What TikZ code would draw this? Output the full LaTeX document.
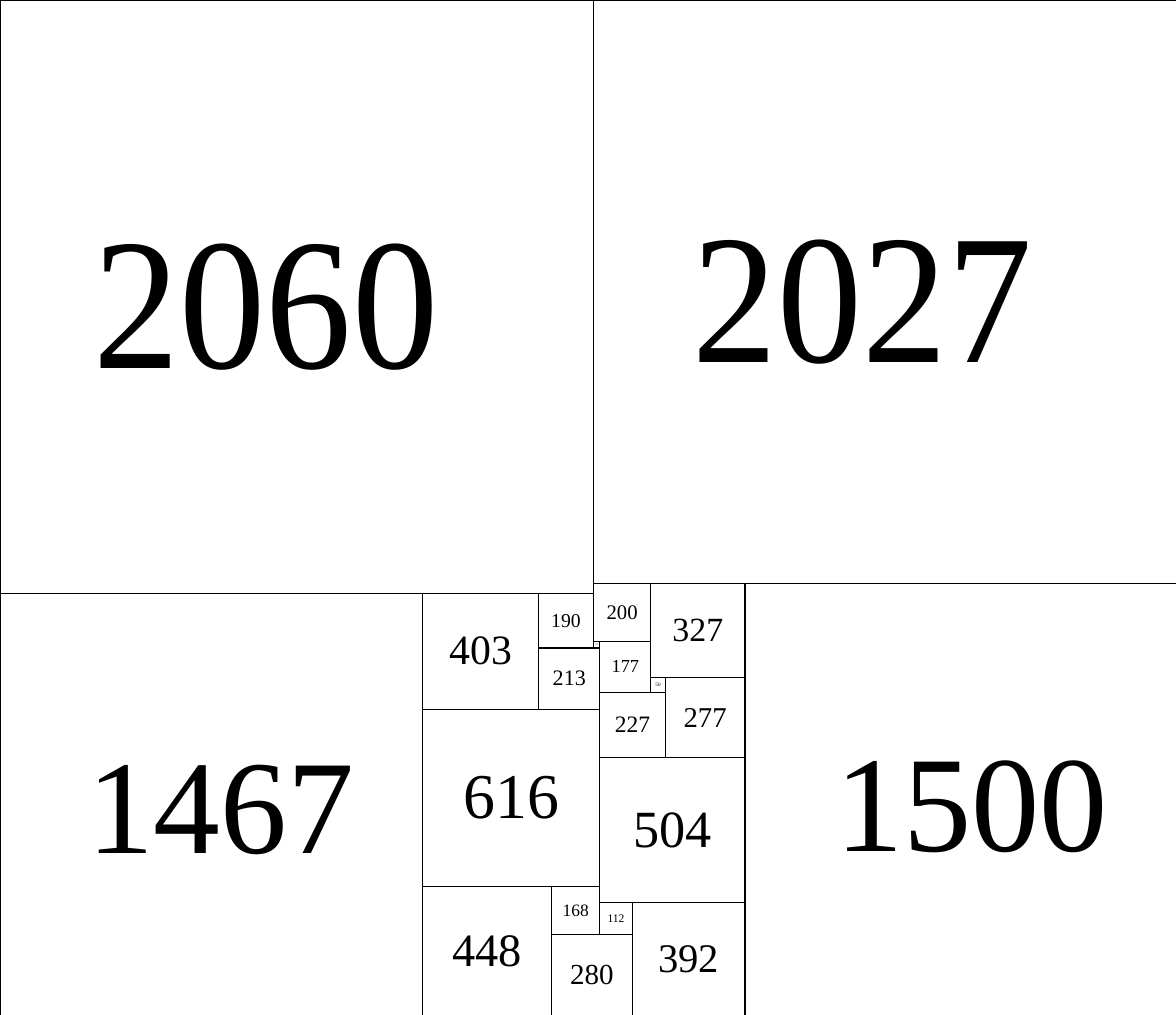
\documentclass[tikz,border=0pt]{standalone}
\usepackage{fontspec}
\setmainfont{Liberation Serif}
\usepackage{tikz}

% font size grows with the side of the square
\newcommand{\numfont}[1]{\fontsize{\fpeval{(#1<1000 ? 0.36 : 0.316)*#1*0.2845}pt}{\fpeval{(#1<1000 ? 0.36 : 0.316)*#1*0.2845*1.2}pt}\selectfont}

\begin{document}
\begin{tikzpicture}[x=0.01cm, y=-0.01cm,
  sq/.style={draw, line width=1.1pt, inner sep=0pt, anchor=north west, minimum size=#1*0.01cm, font=\numfont{#1}},
  num/.style={inner sep=0pt, font=\numfont{#1}},
  narrownum/.style={inner sep=0pt, font={\numfont{#1}\addfontfeatures{FakeStretch=0.92}}}]
\useasboundingbox (0,0) rectangle (4087,3527);
% the four big squares
\node[sq=2060, label={[narrownum=2060, xshift=-1.08cm, yshift=-0.35cm]center:2060}] (s2060) at (0,0) {};
\node[sq=2027, label={[narrownum=2027, xshift=-0.78cm, yshift=-0.35cm]center:2027}] (s2027) at (2060,0) {};
\node[sq=1467, label={[num=1467, xshift=0.31cm, yshift=-0.20cm]center:1467}] (s1467) at (0,2060) {};
\node[sq=1500, label={[num=1500, xshift=0.38cm, yshift=-0.24cm]center:1500}] (s1500) at (2587,2027) {};
% the small squares in between
\node[sq=403] (s403) at (1467,2060) {403};
\node[sq=190] (s190) at (1870,2060) {190};
\node[sq=213] (s213) at (1870,2250) {213};
\node[sq=200] (s200) at (2060,2027) {200};
\node[sq=327] (s327) at (2260,2027) {327};
\node[sq=23] (s23) at (2060,2227) {23};
\node[sq=177] (s177) at (2083,2227) {177};
\node[sq=50] (s50) at (2260,2354) {50};
\node[sq=277] (s277) at (2310,2354) {277};
\node[sq=227] (s227) at (2083,2404) {227};
\node[sq=616] (s616) at (1467,2463) {616};
\node[sq=504] (s504) at (2083,2631) {504};
\node[sq=448] (s448) at (1467,3079) {448};
\node[sq=168] (s168) at (1915,3079) {168};
\node[sq=112] (s112) at (2083,3135) {112};
\node[sq=280] (s280) at (1915,3247) {280};
\node[sq=392] (s392) at (2195,3135) {392};
\end{tikzpicture}
\end{document}
